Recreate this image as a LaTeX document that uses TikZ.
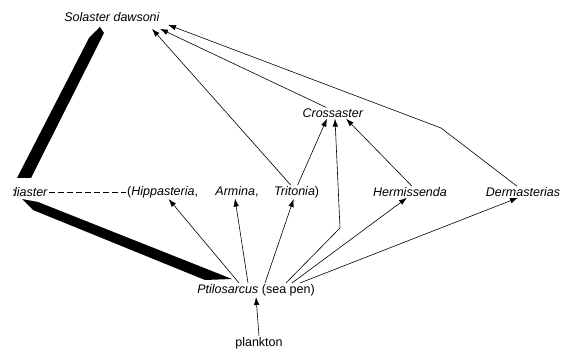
\documentclass[tikz,border=0pt]{standalone}
\usepackage{fontspec}
\setmainfont{Liberation Sans}
\usetikzlibrary{arrows.meta,calc}

\begin{document}
\begin{tikzpicture}[x = 1pt, y = -1pt, > = {Latex[length = 8pt, width = 5.5pt]},
    font = \fontsize{12.5}{14}\selectfont]
    \tikzset{
      taxon/.style = {inner sep = 1pt},
      link/.style = {->, line width = 0.6pt},
      bar/.style = {fill = black},
    }

    \useasboundingbox (0, 0) rectangle (562, 352);

    \node [taxon] (sol) at (112, 17) {\textit{Solaster dawsoni}};
    \node [taxon] (cross) at (333, 113) {\textit{Crossaster}};
    % left label is cut off in the figure
    \begin{scope}
      \clip (13, 170) rectangle (60, 210);
      \node [taxon, anchor = east] (med) at (49, 192) {\textit{Mediaster}};
    \end{scope}
    \node [taxon, anchor = west] (hipp) at (126, 192) {(\textit{Hippasteria},};
    \node [taxon] (arm) at (237, 192) {\textit{Armina},};
    \node [taxon, anchor = west] (trit) at (273, 192) {\textit{Tritonia})};
    \node [taxon] (herm) at (410, 192) {\textit{Hermissenda}};
    \node [taxon] (derm) at (523, 192) {\textit{Dermasterias}};
    \node [taxon] (ptil) at (256, 290) {\textit{Ptilosarcus} (sea pen)};
    \node [taxon] (plank) at (259, 343) {plankton};

    \coordinate (bendc) at (340, 228);
    \coordinate (bendd) at (441, 128);

    % thick links
    \fill [bar] (17, 178) -- (89, 38) -- (100, 27) -- (104, 33) -- (31, 178) -- cycle;
    \fill [bar] (22, 199) -- (38, 202) -- (232, 279) -- (205, 280) -- (33, 210) -- cycle;

    \draw [dash pattern = on 6pt off 3pt, line width = 0.6pt] (med.east) -- (hipp.west);

    \draw [link] (plank.north) -- (ptil.south);

    \draw [link] ($(ptil.north) + (-17, 0)$) -- ($(hipp.south) + (6, 0)$);
    \draw [link] ($(ptil.north) + (-8, 0)$) -- ($(arm.south) + (-2, 0)$);
    \draw [link] ($(ptil.north) + (9, 0)$) -- ($(trit.south) + (-3, 0)$);
    \draw [link] ($(ptil.north) + (30, 0)$) -- (bendc) -- ($(cross.south) + (2, 0)$);
    \draw [link] ($(ptil.north) + (36, 0)$) -- ($(herm.south) + (-3, 0)$);
    \draw [link] ($(ptil.north) + (44, 0)$) -- ($(derm.south) + (-5, 0)$);

    \draw [link] ($(trit.north) + (1, 0)$) -- ($(cross.south) + (-6, 0)$);
    \draw [link] ($(herm.north) + (2, 0)$) -- ($(cross.south) + (13, 0)$);

    \draw [link] ($(trit.north) + (-6, 0)$) -- ($(sol.south) + (40, 6)$);
    \draw [link] ($(cross.north) + (-7, 0)$) -- ($(sol.south) + (48, 6)$);
    \draw [link] ($(derm.north) + (-6, 0)$) -- (bendd) -- ($(sol.south) + (56, 2)$);
  \end{tikzpicture}
\end{document}
